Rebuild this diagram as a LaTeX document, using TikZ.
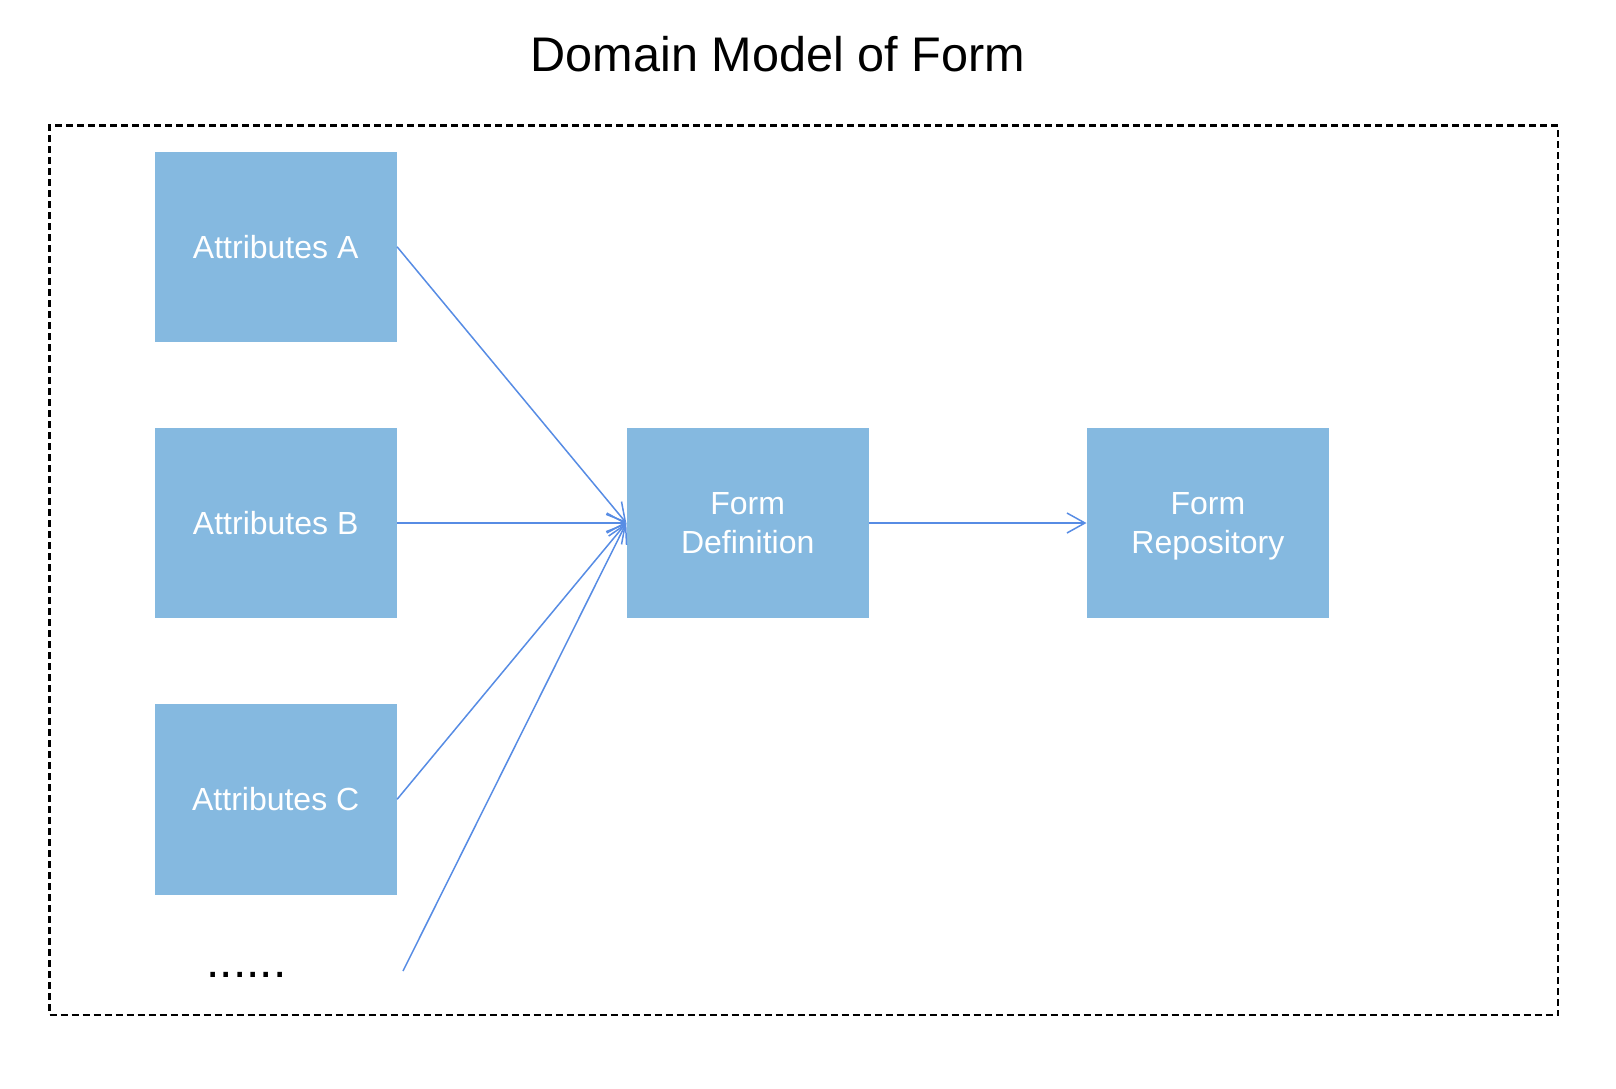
\documentclass[tikz,border=0pt]{standalone}
\usepackage{fontspec}
\setmainfont{Liberation Sans}
\usetikzlibrary{arrows.meta}
\definecolor{boxfill}{RGB}{133,185,224}
\definecolor{linecol}{RGB}{87,140,228}
\begin{document}
\begin{tikzpicture}[x=0.5pt,y=-0.5pt,
  entity/.style={fill=boxfill,draw=none,minimum width=121pt,minimum height=95.25pt,
    text=white,font=\fontsize{16}{19.5}\selectfont,align=center,inner sep=0pt},
  link/.style={draw=linecol,line width=0.75pt,
    -{Straight Barb[length=9pt,width=10pt,line width=0.75pt]}},
  frame/.style={draw=black,line width=1.25pt,dash pattern=on 3.5pt off 2pt,
    minimum width=754.25pt,minimum height=444.65pt,inner sep=0pt}]
\useasboundingbox (0,0) rectangle (1616,1088);
\node[font=\fontsize{24.3}{28}\selectfont] (title) at (778,54) {Domain Model of Form};
\node[frame] (border) at (803.75,570.35) {};
\node[entity] (A) at (275.7,246.8) {Attributes A};
\node[entity] (B) at (275.7,523) {Attributes B};
\node[entity] (C) at (275.7,799.3) {Attributes C};
\node[entity] (FD) at (747.7,523) {Form\\Definition};
\node[entity] (FR) at (1207.9,523) {Form\\\raisebox{0pt}[\height][0pt]{Repository}};
\node[anchor=base,font=\fontsize{24}{28}\selectfont,inner sep=0pt] (dots) at (246.5,977) {......};
\coordinate (free) at (403,971);
\draw[link] (A.east) -- (FD.west);
\draw[link] (B.east) -- (FD.west);
\draw[link] (C.east) -- (FD.west);
\draw[link] (free) -- (FD.west);
\draw[link] (FD.east) -- (FR.west);
\end{tikzpicture}
\end{document}
